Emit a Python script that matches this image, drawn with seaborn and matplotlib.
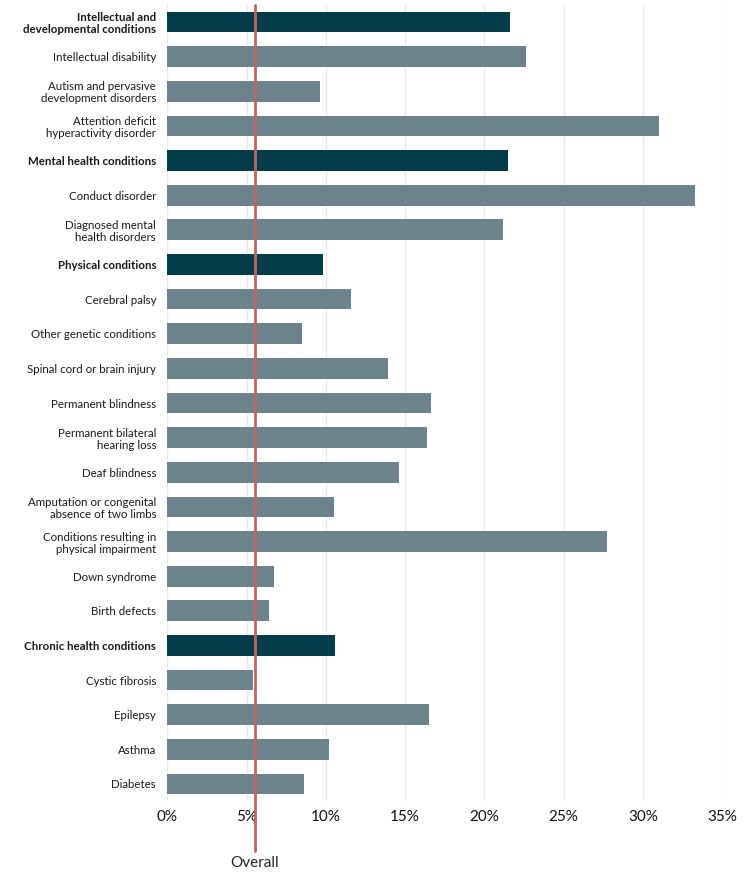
import matplotlib
matplotlib.use("Agg")
import pandas as pd
import matplotlib.pyplot as plt
import matplotlib.transforms as mtransforms
import seaborn as sns
from matplotlib.ticker import FuncFormatter

# ------------------------
# Data
# ------------------------
conditions = [
    "Intellectual and\ndevelopmental conditions",
    "Intellectual disability",
    "Autism and pervasive\ndevelopment disorders",
    "Attention deficit\nhyperactivity disorder",
    "Mental health conditions",
    "Conduct disorder",
    "Diagnosed mental\nhealth disorders",
    "Physical conditions",
    "Cerebral palsy",
    "Other genetic conditions",
    "Spinal cord or brain injury",
    "Permanent blindness",
    "Permanent bilateral\nhearing loss",
    "Deaf blindness",
    "Amputation or congenital\nabsence of two limbs",
    "Conditions resulting in\nphysical impairment",
    "Down syndrome",
    "Birth defects",
    "Chronic health conditions",
    "Cystic fibrosis",
    "Epilepsy",
    "Asthma",
    "Diabetes",
]
rates = [21.6, 22.6, 9.6, 31.0, 21.5, 33.3, 21.2, 9.8, 11.6, 8.5, 13.9, 16.6,
         16.4, 14.6, 10.5, 27.7, 6.7, 6.4, 10.6, 5.4, 16.5, 10.2, 8.6]
is_group = [True, False, False, False, True, False, False, True, False, False,
            False, False, False, False, False, False, False, False, True,
            False, False, False, False]
overall_rate = 5.5
x_ticks = [0, 5, 10, 15, 20, 25, 30, 35]

GROUP_COLOR = "#033c4b"
ITEM_COLOR = "#6c828d"
OVERALL_COLOR = "#c0675c"

df = pd.DataFrame({"condition": conditions, "rate": rates, "group": is_group})
palette = {c: (GROUP_COLOR if g else ITEM_COLOR) for c, g in zip(conditions, is_group)}

# ------------------------
# Plot
# ------------------------
sns.set_style("white")
plt.rcParams["font.family"] = ["Lato", "DejaVu Sans"]

fig = plt.figure(figsize=(7.56, 8.74), dpi=100)
ax = fig.add_axes([0.2213, 0.0832, 0.7341, 0.9114])

sns.barplot(data=df, x="rate", y="condition", hue="condition", palette=palette,
            order=conditions, hue_order=conditions, legend=False,
            width=0.6, saturation=1, linewidth=0, ax=ax)

ax.set_xlim(0, 35)
ax.set_xticks(x_ticks)
ax.xaxis.set_major_formatter(FuncFormatter(lambda v, p: f"{v:.0f}%"))
ax.grid(axis="x", color="#e9e9e9", linewidth=1)
ax.set_axisbelow(True)
sns.despine(ax=ax, left=True, bottom=True)
ax.set_xlabel("")
ax.set_ylabel("")
ax.tick_params(axis="x", length=0, labelsize=11, pad=6, labelcolor="#111111")
ax.tick_params(axis="y", length=0, labelsize=8.3, pad=8, labelcolor="#1a1a1a")

for lbl, g in zip(ax.get_yticklabels(), is_group):
    lbl.set_linespacing(1.12)
    if g:
        lbl.set_fontweight("bold")

# overall reference line, running below the axis
ax.axvline(overall_rate, ymin=-0.062, ymax=1, color=OVERALL_COLOR,
           linewidth=2, clip_on=False, zorder=5)
trans = mtransforms.blended_transform_factory(ax.transData, ax.transAxes)
ax.text(overall_rate, -0.078, "Overall", transform=trans, ha="center",
        va="center", fontsize=11, color="#222222")

fig.savefig("out.png", dpi=100)
